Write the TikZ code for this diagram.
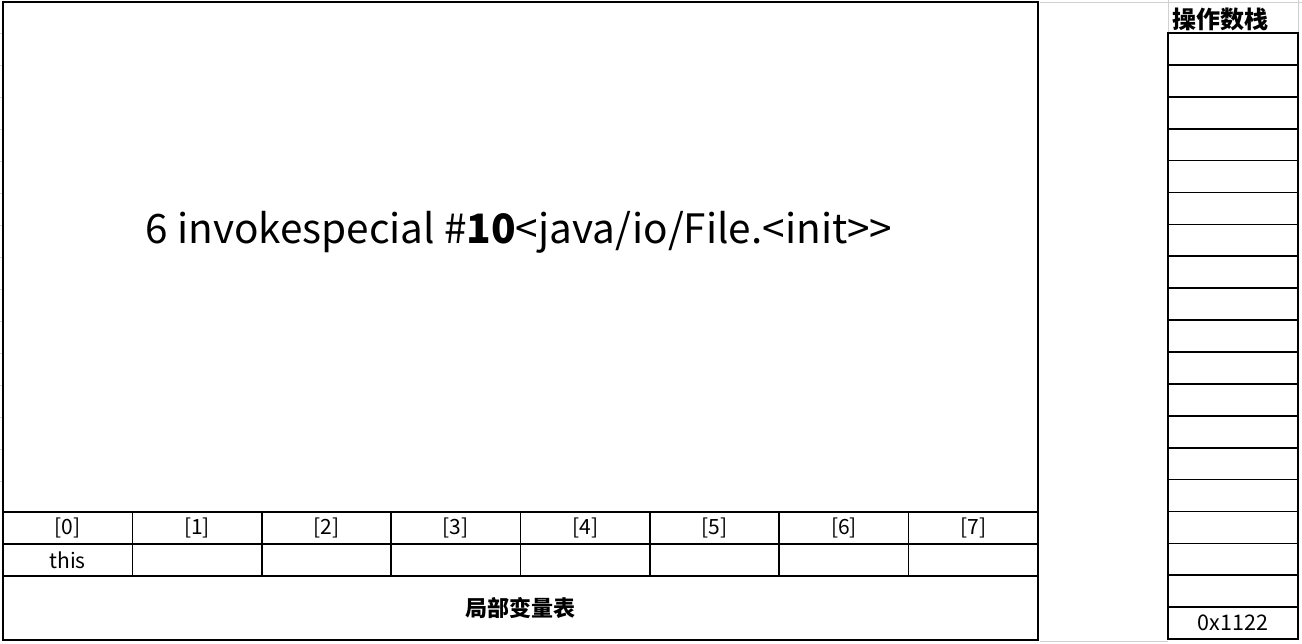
\documentclass[tikz,border=0pt]{standalone}
\usepackage{fontspec}
\setmainfont{Noto Sans CJK SC}
\begin{document}
\begin{tikzpicture}[x=1pt,y=-1pt,
  cell/.style={draw=black,line width=1.7pt,inner sep=0pt,outer sep=0pt,anchor=north west,font=\fontsize{21}{23}\selectfont},
  grid/.style={draw=black!18,line width=1pt}]
\useasboundingbox (0,0) rectangle (1302,643);
% faint spreadsheet gridlines
\draw[grid] (1040,2) -- (1302,2);
\draw[grid] (1040,641) -- (1168,641);
\draw[grid] (1168,0) -- (1168,33);
\draw[grid] (1298,0) -- (1298,33);
\foreach \yy in {33,65,97,129,161,193,225,257,289,321,353,385,417,449,481} {\draw[grid] (0,\yy) -- (3,\yy);}
% main code cell
\node[cell,minimum width=1035pt,minimum height=510pt] (code) at (3,2) {};
\node[font=\fontsize{40.5}{44}\selectfont] (instr) at (519,232) {6 invokespecial \#\textbf{10}<java/io/File.<init>{}>};
% local variable table
\foreach \i in {0,...,7} {
  \node[cell,minimum width=129.375pt,minimum height=32pt] (idx\i) at ({3+129.375*\i},512) {[\i]};
  \node[cell,minimum width=129.375pt,minimum height=32pt] (val\i) at ({3+129.375*\i},544) {};
}
\node[font=\fontsize{21}{23}\selectfont] (thisv) at (val0.center) {this};
\node[cell,minimum width=1035pt,minimum height=64pt,font=\fontsize{22}{24}\selectfont\bfseries] (lvt) at (3,576) {局部变量表};
% operand stack
\node[font=\fontsize{24}{26}\selectfont\bfseries,anchor=south west,inner sep=0pt] (stk) at (1172,31) {操作数栈};
\foreach \j in {0,...,18} {
  \node[cell,minimum width=130pt,minimum height=31.9pt] (s\j) at (1168,{33+31.9*\j}) {};
}
\node[font=\fontsize{21.5}{23}\selectfont] (addr) at (s18.center) {0x1122};
\end{tikzpicture}
\end{document}
